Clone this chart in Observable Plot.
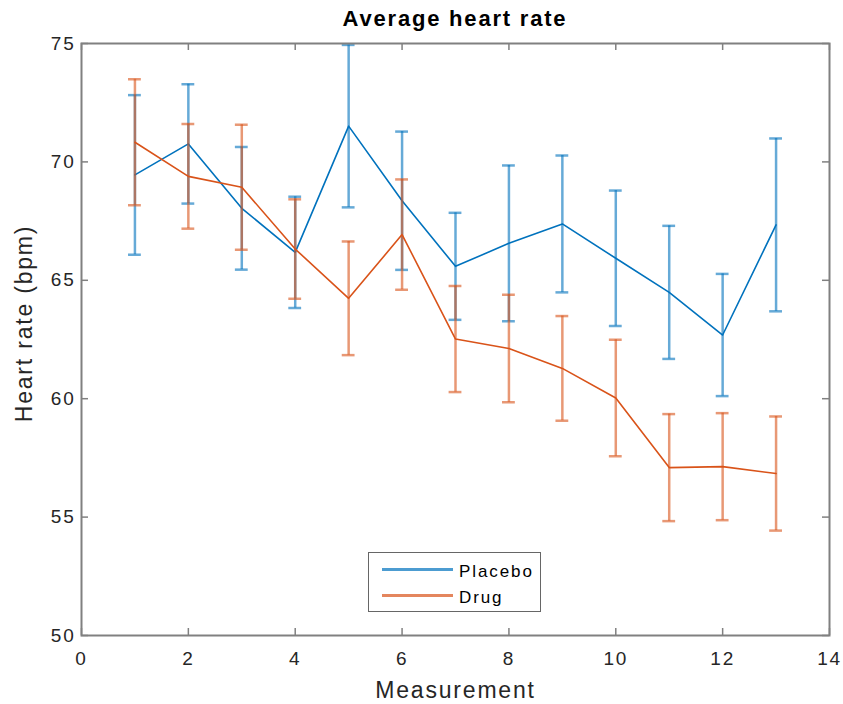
<!DOCTYPE html>
<html>
<head>
<meta charset="utf-8">
<script src="https://cdn.jsdelivr.net/npm/d3@7"></script>
<script src="https://cdn.jsdelivr.net/npm/@observablehq/plot@0.6"></script>
<style>
  body { margin: 0; background: #fff; font-family: "Liberation Sans", Arial, sans-serif; }
  #wrap { position: relative; width: 843px; height: 704px; }
  #title { position: absolute; left: 81px; width: 748px; top: 8px; text-align: center;
           font-size: 22px; line-height: 22px; font-weight: bold; color: #000; letter-spacing: 1.8px; }
  #legend { position: absolute; left: 368px; top: 552px; width: 171px; height: 58px;
            border: 1.5px solid #666; background: #fff; }
  .lg-line { position: absolute; left: 13px; width: 71px; height: 2.5px; }
  .lg-text { position: absolute; left: 90px; font-size: 17px; line-height: 17px; color: #000; letter-spacing: 1.9px; }
</style>
</head>
<body>
<div id="wrap">
  <div id="chart"></div>
  <div id="title"></div>
  <div id="legend"></div>
</div>
<script>
// ---- data ----
const title = "Average heart rate";
const xLabel = "Measurement";
const yLabel = "Heart rate (bpm)";
const seriesNames = ["Placebo", "Drug"];
const seriesColors = ["#0072BD", "#D95319"];
const measurement = [1, 2, 3, 4, 5, 6, 7, 8, 9, 10, 11, 12, 13];
const placeboMean = [69.45, 70.76, 68.04, 66.18, 71.51, 68.36, 65.59, 66.56, 67.38, 65.93, 64.49, 62.69, 67.34];
const placeboErr  = [3.37, 2.52, 2.59, 2.35, 3.43, 2.92, 2.26, 3.29, 2.89, 2.86, 2.81, 2.58, 3.65];
const drugMean    = [70.83, 69.39, 68.93, 66.32, 64.24, 66.93, 62.52, 62.12, 61.28, 60.03, 57.09, 57.13, 56.84];
const drugErr     = [2.66, 2.21, 2.64, 2.10, 2.40, 2.33, 2.24, 2.27, 2.21, 2.46, 2.26, 2.26, 2.41];
const xTicks = [0, 2, 4, 6, 8, 10, 12, 14];
const yTicks = [50, 55, 60, 65, 70, 75];

// ---- build ----
const series = [
  {name: seriesNames[0], color: seriesColors[0], rows: measurement.map((m, i) => ({x: m, y: placeboMean[i], e: placeboErr[i]}))},
  {name: seriesNames[1], color: seriesColors[1], rows: measurement.map((m, i) => ({x: m, y: drugMean[i], e: drugErr[i]}))}
];

const W = 843, H = 704, mT = 43, mB = 69, mL = 81, mR = 14;
const innerW = W - mL - mR, innerH = H - mT - mB;
const tickLen = 7, capHalf = 0.12;
const axisColor = "#808080";

const marks = [];
for (const s of series) {
  marks.push(
    Plot.ruleX(s.rows, {x: "x", y1: d => d.y - d.e, y2: d => d.y + d.e, stroke: s.color, strokeOpacity: 0.6, strokeWidth: 2.5}),
    Plot.ruleY(s.rows, {y: d => d.y + d.e, x1: d => d.x - capHalf, x2: d => d.x + capHalf, stroke: s.color, strokeOpacity: 0.6, strokeWidth: 2.5}),
    Plot.ruleY(s.rows, {y: d => d.y - d.e, x1: d => d.x - capHalf, x2: d => d.x + capHalf, stroke: s.color, strokeOpacity: 0.6, strokeWidth: 2.5}),
    Plot.line(s.rows, {x: "x", y: "y", stroke: s.color, strokeWidth: 1.6})
  );
}

const chart = Plot.plot({
  width: W, height: H,
  marginTop: mT, marginBottom: mB, marginLeft: mL, marginRight: mR,
  style: {fontFamily: "'Liberation Sans', Arial, sans-serif", fontSize: "19px", color: "#262626", background: "transparent", letterSpacing: "1.8px"},
  x: {domain: [0, 14], label: null},
  y: {domain: [50, 75], label: null},
  marks: [
    // inward ticks on all four sides
    Plot.ruleX(xTicks, {x: d => d, insetTop: innerH - tickLen, stroke: axisColor, strokeWidth: 1.5}),
    Plot.ruleX(xTicks, {x: d => d, insetBottom: innerH - tickLen, stroke: axisColor, strokeWidth: 1.5}),
    Plot.ruleY(yTicks, {y: d => d, insetRight: innerW - tickLen, stroke: axisColor, strokeWidth: 1.5}),
    Plot.ruleY(yTicks, {y: d => d, insetLeft: innerW - tickLen, stroke: axisColor, strokeWidth: 1.5}),
    Plot.axisX(xTicks, {tickSize: 0, tickPadding: 16, fontSize: 19}),
    Plot.axisY(yTicks, {tickSize: 0, tickPadding: 6, fontSize: 19}),
    ...marks,
    Plot.frame({stroke: axisColor, strokeWidth: 2}),
    Plot.text([xLabel], {text: d => d, frameAnchor: "bottom", dy: 55.6, fontSize: 23, fill: "#262626", textAnchor: "middle", lineAnchor: "middle"}),
    Plot.text([yLabel], {text: d => d, frameAnchor: "left", dx: -56.4, dy: -16, rotate: -90, fontSize: 23, fill: "#262626", textAnchor: "middle", lineAnchor: "middle"})
  ]
});
document.getElementById("chart").appendChild(chart);

document.getElementById("title").textContent = title;

const legend = document.getElementById("legend");
series.forEach((s, i) => {
  const line = document.createElement("div");
  line.className = "lg-line";
  line.style.top = (15 + i * 26) + "px";
  line.style.background = s.color;
  line.style.opacity = 0.7;
  legend.appendChild(line);
  const t = document.createElement("div");
  t.className = "lg-text";
  t.style.top = (9.5 + i * 26) + "px";
  t.textContent = s.name;
  legend.appendChild(t);
});
</script>
</body>
</html>
